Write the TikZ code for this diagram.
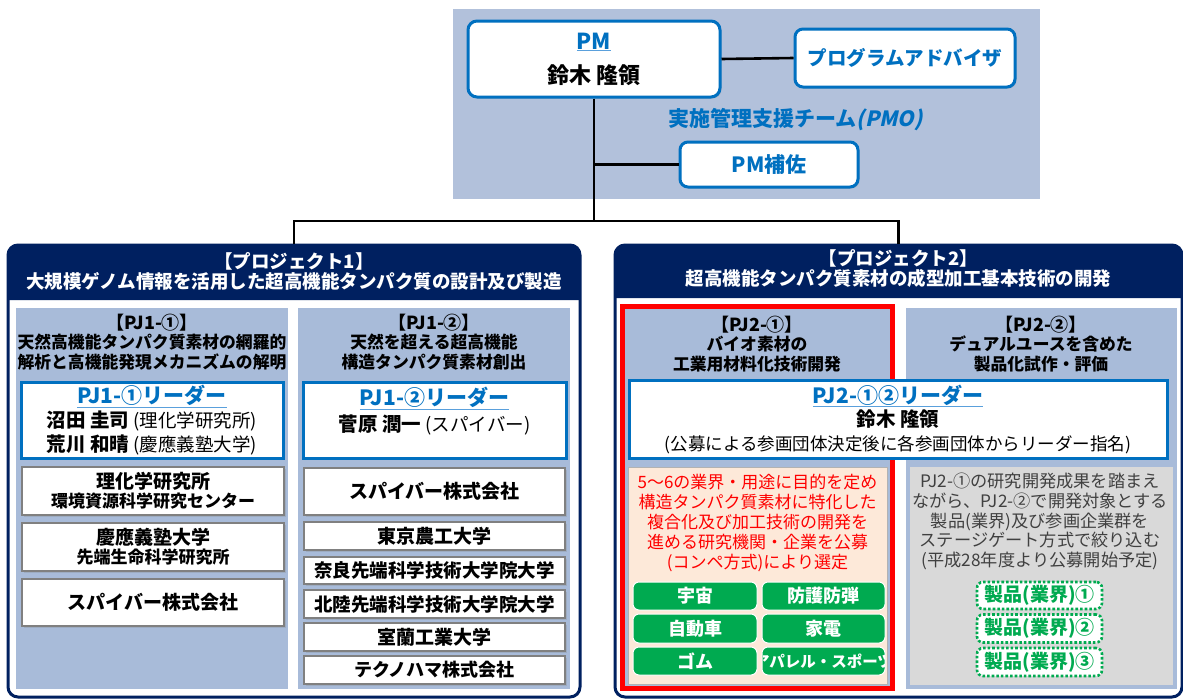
\documentclass[tikz,border=0pt]{standalone}
\usepackage{fontspec}
\setmainfont{Noto Sans CJK JP}
\newfontfamily\pmoslant{Noto Sans CJK JP}[FakeSlant=0.22,BoldFeatures={FakeSlant=0.22}]
\usetikzlibrary{shadows}
\definecolor{navy}{RGB}{0,32,96}
\definecolor{pmblue}{RGB}{0,112,192}
\definecolor{ulblue}{RGB}{90,160,220}
\definecolor{panelblue}{RGB}{168,187,217}
\definecolor{pmobg}{RGB}{178,193,219}
\definecolor{peach}{RGB}{253,233,217}
\definecolor{graybox}{RGB}{217,217,217}
\definecolor{btngreen}{RGB}{0,170,80}
\definecolor{graytext}{RGB}{64,64,64}
\definecolor{orggray}{RGB}{128,128,128}
\definecolor{redline}{RGB}{255,0,0}
\newcommand\fs[2]{\fontsize{#1}{#2}\selectfont}
\newcommand\ulb[1]{{\color{ulblue}\underline{\color{pmblue}#1}}}
\begin{document}
\begin{tikzpicture}[x=1pt,y=-1pt,
  conn/.style={line width=2.6pt,black},
  shad/.style={drop shadow={opacity=0.25,shadow xshift=1.5pt,shadow yshift=-1.5pt}},
  bluebox/.style={draw=pmblue,line width=3pt,fill=white,rounded corners=9pt,inner sep=0pt,shad,align=center},
  leaderbox/.style={draw=pmblue,line width=3pt,fill=white,inner sep=0pt,shad,align=center},
  orgbox/.style={draw=orggray,line width=2.5pt,fill=white,inner sep=0pt,shad,align=center,font=\fs{19}{20}\bfseries},
  panel/.style={fill=panelblue,draw=none,inner sep=0pt},
  projbox/.style={draw=navy,line width=3pt,fill=white,rounded corners=10pt,inner sep=0pt},
  headtxt/.style={text=white,align=center,inner sep=0pt,font=\fs{18.5}{20}\bfseries},
  ptitle/.style={align=center,inner sep=0pt,font=\fs{16.8}{19.5}\bfseries},
  greenbtn/.style={fill=btngreen,draw=white,line width=1pt,rounded corners=6pt,inner sep=0pt,text=white,font=\fs{18}{20}\bfseries},
  dotbox/.style={draw=btngreen,dotted,line width=2.6pt,fill=white,rounded corners=6pt,inner sep=0pt,text=btngreen,font=\fs{19}{20}\bfseries},
  txt/.style={inner sep=0pt,align=center}
]
\useasboundingbox (0,0) rectangle (1183,699);
\fill[white] (0,0) rectangle (1183,699);

% PMO background
\fill[pmobg] (453,9) rectangle (1040,199);

% top nodes
\node[bluebox,minimum width=252,minimum height=76,font=\fs{22}{26}\bfseries] (pm) at (594,59)
  {\ulb{PM}\\[8pt]鈴木 隆領};
\node[bluebox,minimum width=220,minimum height=58,rounded corners=8pt,text=pmblue,font=\fs{19.5}{22}\bfseries] (adv) at (905,58) {プログラムアドバイザ};
\node[txt,text=pmblue,font=\fs{21}{24}\bfseries] (pmo) at (795.5,120) {実施管理支援チーム{\pmoslant\bfseries (PMO)}};
\node[bluebox,minimum width=178,minimum height=45,rounded corners=8pt,text=pmblue,font=\fs{21}{24}\bfseries] (pmsub) at (769,164.5) {PM補佐};

% project frames
\node[projbox,minimum width=572,minimum height=452] (p1) at (294,471) {};
\node[projbox,minimum width=567,minimum height=452] (p2) at (898.5,471) {};
\fill[navy] (8,300) [rounded corners=10pt] -- (8,245) -- (580,245) [sharp corners] -- (580,300) -- cycle;
\fill[navy] (615,298) [rounded corners=10pt] -- (615,245) -- (1182,245) [sharp corners] -- (1182,298) -- cycle;
\node[headtxt] (p1title) at (294,271) {【プロジェクト1】\\大規模ゲノム情報を活用した超高機能タンパク質の設計及び製造};
\node[headtxt] (p2title) at (898.5,269) {【プロジェクト2】\\超高機能タンパク質素材の成型加工基本技術の開発};

% connectors
\coordinate (hub) at (594,221);
\draw[conn] (pm.east) -- (adv.west);
\draw[conn] (pm.south) -- (hub);
\draw[conn] (hub |- pmsub.west) -- (pmsub.west);
\draw[conn] (p1.north) |- (hub) -| (p2.north);

% panels
\node[panel,minimum width=272,minimum height=381] (pj1a) at (152,498.5) {};
\node[panel,minimum width=272,minimum height=381] (pj1b) at (434,498.5) {};
\node[panel,minimum width=266,minimum height=381] (pj2a) at (757,497.5) {};
\node[panel,minimum width=271,minimum height=381] (pj2b) at (1041,498.5) {};
\node[draw=redline,line width=5pt,inner sep=0pt,minimum width=270,minimum height=382] (pj2aframe) at (757.5,497) {};

\node[ptitle] (pj1at) at (152,342) {{\fs{18}{19.5}【PJ1-①】}\\天然高機能タンパク質素材の網羅的\\解析と高機能発現メカニズムの解明};
\node[ptitle] (pj1bt) at (434,342) {{\fs{18}{19.5}【PJ1-②】}\\天然を超える超高機能\\構造タンパク質素材創出};
\node[ptitle] (pj2at) at (757,344) {{\fs{18}{19.5}【PJ2-①】}\\バイオ素材の\\工業用材料化技術開発};
\node[ptitle] (pj2bt) at (1041,344) {{\fs{18}{19.5}【PJ2-②】}\\デュアルユースを含めた\\製品化試作・評価};

% PJ1 leaders
\node[leaderbox,minimum width=262,minimum height=76,font=\fs{19.5}{24}\bfseries] (l1a) at (152,420)
  {{\fs{21}{24}\ulb{PJ1-①リーダー}}\\沼田 圭司 {\mdseries\fs{18.5}{24}(理化学研究所)}\\荒川 和晴 {\mdseries\fs{18.5}{24}(慶應義塾大学)}};
\node[leaderbox,minimum width=263,minimum height=76] (l1b) at (434.5,420) {};
\node[txt,font=\fs{19.5}{26}\bfseries] (l1bt) at (434.5,411)
  {{\fs{21}{26}\ulb{PJ1-②リーダー}}\\菅原 潤一 {\mdseries\fs{18.5}{26}(スパイバー)}};

% PJ1 organisations
\node[orgbox,minimum width=262,minimum height=48] (riken) at (153,491)
  {理化学研究所\\[-1pt]{\fs{17}{20}環境資源科学研究センター}};
\node[orgbox,minimum width=262,minimum height=48] (keio) at (153,547)
  {慶應義塾大学\\[-1pt]{\fs{17}{20}先端生命科学研究所}};
\node[orgbox,minimum width=262,minimum height=47] (spiber1) at (153,602.5) {スパイバー株式会社};

\node[orgbox,minimum width=261,minimum height=47] (spiber2) at (434.5,491.5) {スパイバー株式会社};
\node[orgbox,minimum width=261,minimum height=28] (tokyo) at (434.5,536) {東京農工大学};
\node[orgbox,minimum width=261,minimum height=27,font=\fs{18.5}{20}\bfseries] (nara) at (434.5,570.5) {奈良先端科学技術大学院大学};
\node[orgbox,minimum width=261,minimum height=28,font=\fs{18.5}{20}\bfseries] (hokuriku) at (434.5,604) {北陸先端科学技術大学院大学};
\node[orgbox,minimum width=261,minimum height=28] (muroran) at (434.5,637) {室蘭工業大学};
\node[orgbox,minimum width=261,minimum height=28,font=\fs{18}{20}\bfseries] (techno) at (434.5,670) {テクノハマ株式会社};

% PJ2 lower boxes
\node[fill=peach,draw=black!30,line width=1pt,inner sep=0pt,minimum width=259,minimum height=217] (pj2ainfo) at (757.5,575.5) {};
\node[txt,text=redline,font=\fs{17}{20}] (pj2atext) at (757.5,523)
  {5～6の業界・用途に目的を定め\\構造タンパク質素材に特化した\\複合化及び加工技術の開発を\\進める研究機関・企業を公募\\(コンペ方式)により選定};
\node[fill=graybox,draw=black!15,line width=1pt,inner sep=0pt,minimum width=262,minimum height=217] (pj2binfo) at (1041,575.5) {};
\node[txt,text=graytext,font=\fs{17.2}{19.6}] (pj2btext) at (1040,521.5)
  {PJ2-①の研究開発成果を踏まえ\\ながら、PJ2-②で開発対象とする\\製品(業界)及び参画企業群を\\ステージゲート方式で絞り込む\\(平成28年度より公募開始予定)};

% PJ2 leader (on top of red frame)
\node[leaderbox,minimum width=538,minimum height=78,font=\fs{19.5}{23.5}\bfseries] (l2) at (898,419)
  {{\fs{21}{23.5}\ulb{PJ2-①②リーダー}}\\鈴木 隆領\\{\mdseries\fs{17.5}{23.5}(公募による参画団体決定後に各参画団体からリーダー指名)}};

% green buttons
\node[greenbtn,minimum width=124,minimum height=28] (b1) at (695,596) {宇宙};
\node[greenbtn,minimum width=123,minimum height=28] (b2) at (823.5,596) {防護防弾};
\node[greenbtn,minimum width=124,minimum height=29] (b3) at (695,628.5) {自動車};
\node[greenbtn,minimum width=123,minimum height=29] (b4) at (823.5,628.5) {家電};
\node[greenbtn,minimum width=124,minimum height=28] (b5) at (695,661) {ゴム};
\node[greenbtn,minimum width=123,minimum height=28] (b6) at (823.5,661) {};
\begin{scope}
  \clip[rounded corners=6pt] (762.5,647.5) rectangle (884.5,674.5);
  \node[txt,text=white,font=\fs{15.5}{20}\bfseries] (b6t) at (823.5,661) {アパレル・スポーツ};
\end{scope}

% dotted product boxes
\node[dotbox,minimum width=125,minimum height=27] (d1) at (1039.5,595.5) {製品(業界)①};
\node[dotbox,minimum width=125,minimum height=28] (d2) at (1039.5,628.5) {製品(業界)②};
\node[dotbox,minimum width=125,minimum height=28] (d3) at (1039.5,662) {製品(業界)③};
\end{tikzpicture}
\end{document}
